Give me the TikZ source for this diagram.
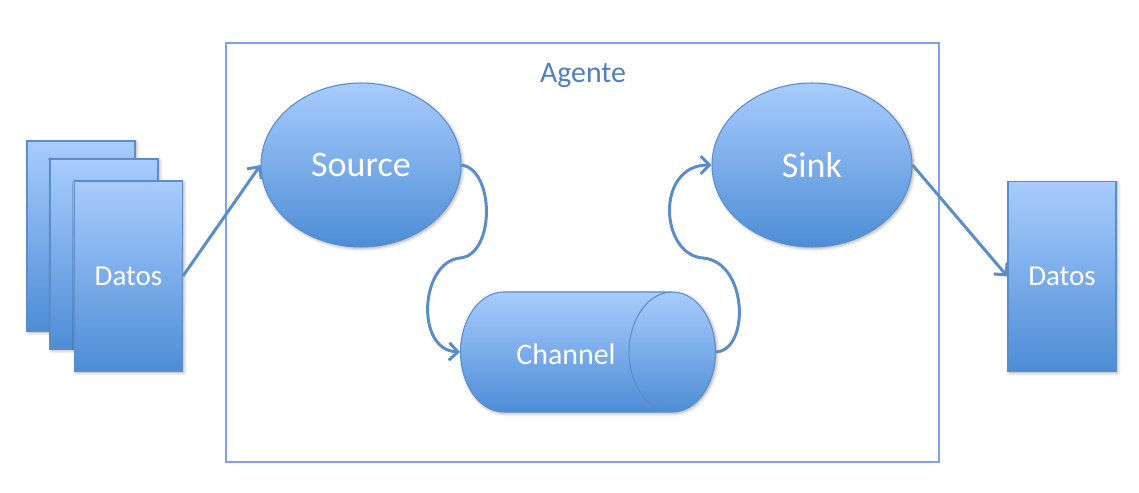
\documentclass[tikz,border=0pt]{standalone}
\usepackage{fontspec}
\setmainfont{Carlito}
\usetikzlibrary{arrows.meta,shapes.geometric,shadows.blur}
\definecolor{boxtop}{HTML}{A8CCFD}
\definecolor{boxbottom}{HTML}{4D8DD6}
\definecolor{boxline}{HTML}{5B8DC8}
\definecolor{agentline}{HTML}{7BA4E6}
\definecolor{agenttext}{HTML}{4F7FBF}
\definecolor{flowline}{HTML}{5A8EC8}
\tikzset{
	blueshade/.style={
			top color=boxtop, bottom color=boxbottom, draw=boxline, line width=0.6pt, text=white,
			blur shadow={shadow xshift=0.8pt, shadow yshift=-0.8pt, shadow blur steps=4, shadow opacity=35}
		},
	datos/.style={blueshade, rectangle, minimum width=2.16cm, minimum height=3.8cm, inner sep=0pt,
			font=\fontsize{16.5}{19}\selectfont},
	bubble/.style={blueshade, ellipse, minimum width=4cm, minimum height=3.28cm, inner sep=0pt,
			font=\fontsize{20.5}{24}\selectfont},
	flow/.style={draw=flowline, line width=1.7pt, -{Straight Barb[length=5pt,width=10pt]}}
}

\begin{document}
\begin{tikzpicture}[x=0.02cm,y=-0.02cm]
	\useasboundingbox (0,0) rectangle (1139,493);

	\node[draw=agentline, line width=0.7pt, minimum width=14.26cm, minimum height=8.38cm] (agente) at (582.5,252.5) {};
	\node[text=agenttext, font=\fontsize{17}{20}\selectfont] (agentetext) at (583,75) {Agente};

	\node[datos] (datosA) at (81,236) {};
	\node[datos] (datosB) at (104,254) {};
	\node[datos] (datosC) at (128.5,276) {Datos};
	\node[datos] (datosout) at (1062,276.5) {Datos};

	\node[bubble] (source) at (361,165) {Source};
	\node[bubble] (sink) at (812,165) {Sink};

	\node[blueshade, cylinder, shape aspect=0.72, minimum height=5.1cm, inner xsep=0pt, inner ysep=1.2cm,
		anchor=west] (channel) at (460,352) {};
	\node[text=white, font=\fontsize{17}{20}\selectfont] (channeltext) at (566,354) {Channel};

	\draw[flow] (datosC.east) -- (source.west);
	\draw[flow] (source.east) .. controls (495,170) and (495,255) .. (460,258)
		.. controls (420,262) and (415,350) .. (channel.west);
	\draw[flow] (channel.east) .. controls (750,350) and (748,262) .. (703,258)
		.. controls (660,255) and (655,165) .. (sink.west);
	\draw[flow] (sink.east) -- (datosout.west);
\end{tikzpicture}
\end{document}
